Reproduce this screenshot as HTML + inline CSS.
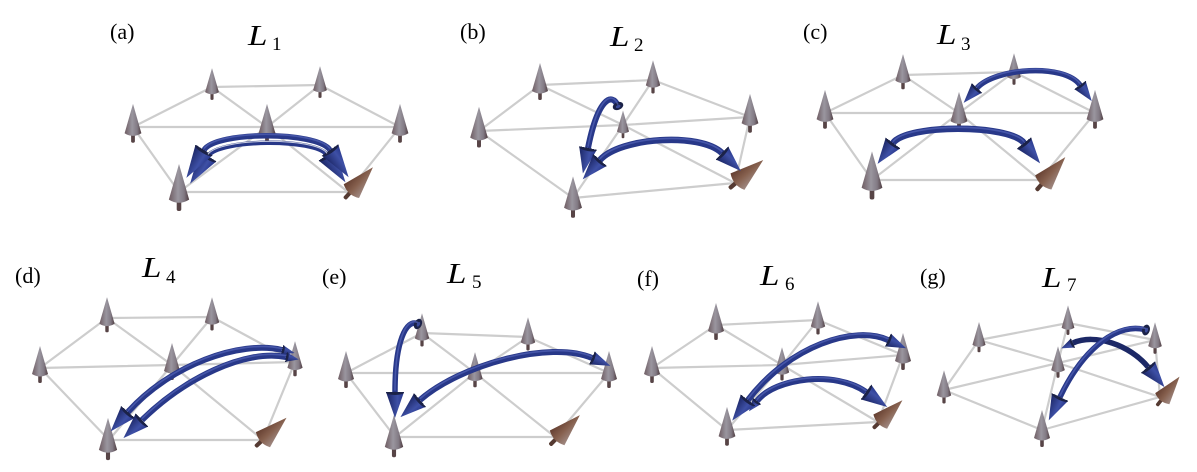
<!DOCTYPE html>
<html><head><meta charset="utf-8"><style>
html,body{margin:0;padding:0;background:#fff;}
svg{display:block;}
text{font-family:"Liberation Serif","DejaVu Serif",serif;fill:#000;}
</style></head><body>
<svg width="1197" height="472" viewBox="0 0 1197 472" xmlns="http://www.w3.org/2000/svg">
<defs>
 <linearGradient id="cg" x1="0" y1="0" x2="1" y2="0">
  <stop offset="0" stop-color="#6e5c62"/>
  <stop offset="0.45" stop-color="#9a969f"/>
  <stop offset="0.75" stop-color="#827a84"/>
  <stop offset="1" stop-color="#4e3c40"/>
 </linearGradient>
 <linearGradient id="cb" x1="0" y1="0" x2="1" y2="0">
  <stop offset="0" stop-color="#643e30"/>
  <stop offset="0.5" stop-color="#86604e"/>
  <stop offset="1" stop-color="#a08a84"/>
 </linearGradient>
 <linearGradient id="ag" x1="0" y1="0" x2="0" y2="1">
  <stop offset="0" stop-color="#26358a"/>
  <stop offset="0.35" stop-color="#3e50a6"/>
  <stop offset="1" stop-color="#1a2462"/>
 </linearGradient>
 <g id="cn">
  <rect x="-1.8" y="4" width="3.6" height="11" rx="1.5" fill="#574446"/>
  <path d="M0,-22 L-8,6 Q0,11 8,6 Z" fill="url(#cg)"/>
 </g>
 <g id="cnb">
  <rect x="-1.8" y="4" width="3.6" height="11" rx="1.5" fill="#553a32"/>
  <path d="M0,-22 L-9,6 Q0,11 9,6 Z" fill="url(#cb)"/>
 </g>
 <marker id="mx" viewBox="0 -11 34 22" refX="0" refY="0" markerWidth="34" markerHeight="22" markerUnits="userSpaceOnUse" orient="auto-start-reverse">
  <path d="M0,-10 L33,0 L0,10 Z" fill="url(#ag)"/>
  <ellipse cx="0.5" cy="0" rx="2.8" ry="10" fill="#1b2248"/>
 </marker>
 <marker id="mb" viewBox="0 -10 27 20" refX="0" refY="0" markerWidth="27" markerHeight="20" markerUnits="userSpaceOnUse" orient="auto-start-reverse">
  <path d="M0,-9 L26,0 L0,9 Z" fill="url(#ag)"/>
  <ellipse cx="0.5" cy="0" rx="2.5" ry="9" fill="#1b2248"/>
 </marker>
 <marker id="mm" viewBox="0 -8 21 16" refX="0" refY="0" markerWidth="21" markerHeight="16" markerUnits="userSpaceOnUse" orient="auto-start-reverse">
  <path d="M0,-7 L20,0 L0,7 Z" fill="url(#ag)"/>
  <ellipse cx="0.5" cy="0" rx="2.2" ry="7" fill="#1b2248"/>
 </marker>
 <marker id="ms" viewBox="0 -6 14 12" refX="0" refY="0" markerWidth="14" markerHeight="12" markerUnits="userSpaceOnUse" orient="auto-start-reverse">
  <path d="M0,-5 L13,0 L0,5 Z" fill="url(#ag)"/>
  <ellipse cx="0.5" cy="0" rx="2" ry="5" fill="#1b2248"/>
 </marker>
 <marker id="md" viewBox="-5 -6 10 12" refX="0" refY="0" markerWidth="10" markerHeight="12" markerUnits="userSpaceOnUse" orient="auto-start-reverse">
  <ellipse cx="0" cy="0" rx="3.8" ry="5.5" fill="#1b2248"/>
  <ellipse cx="0.5" cy="0" rx="1.5" ry="2.5" fill="#3a4a9a"/>
 </marker>
</defs>

<!-- labels -->
<text x="110" y="39" font-size="22">(a)</text>
<text transform="translate(248,45) scale(1.25,1)" font-size="28" font-style="italic">L</text>
<text x="272" y="50" font-size="19">1</text>

<text x="460" y="39" font-size="22">(b)</text>
<text transform="translate(610,46) scale(1.25,1)" font-size="28" font-style="italic">L</text>
<text x="634" y="51" font-size="19">2</text>

<text x="803" y="39" font-size="22">(c)</text>
<text transform="translate(937,44) scale(1.25,1)" font-size="28" font-style="italic">L</text>
<text x="961" y="50" font-size="19">3</text>

<text x="15" y="283" font-size="22">(d)</text>
<text transform="translate(142,277) scale(1.25,1)" font-size="28" font-style="italic">L</text>
<text x="166" y="283" font-size="19">4</text>

<text x="322" y="284" font-size="22">(e)</text>
<text transform="translate(447,283) scale(1.25,1)" font-size="28" font-style="italic">L</text>
<text x="472" y="288" font-size="19">5</text>

<text x="637" y="286" font-size="22">(f)</text>
<text transform="translate(760,285) scale(1.25,1)" font-size="28" font-style="italic">L</text>
<text x="785" y="290" font-size="19">6</text>

<text x="920" y="284" font-size="22">(g)</text>
<text transform="translate(1042,287) scale(1.25,1)" font-size="28" font-style="italic">L</text>
<text x="1067" y="291" font-size="19">7</text>

<!-- lattice edges -->
<g fill="none" stroke="#cdcdcd" stroke-width="2.2" stroke-linejoin="round">
 <path d="M212,87 L320,85 L400,127 L348,192 L179,192 L133,127 Z M267,127 L212,87 M267,127 L320,85 M267,127 L400,127 M267,127 L348,192 M267,127 L179,192 M267,127 L133,127"/>
 <path d="M540,85 L653,80 L750,117 L735,183 L573,198 L479,131 Z M623,125 L540,85 M623,125 L653,80 M623,125 L750,117 M623,125 L735,183 M623,125 L573,198 M623,125 L479,131"/>
 <path d="M903,75 L1014,72 L1095,113 L1040,180 L872,180 L825,113 Z M959,113 L903,75 M959,113 L1014,72 M959,113 L1095,113 M959,113 L1040,180 M959,113 L872,180 M959,113 L825,113"/>
 <path d="M107,318 L212,317 L295,362 L263,440 L109,440 L40,368 Z M172,365 L107,318 M172,365 L212,317 M172,365 L295,362 M172,365 L263,440 M172,365 L109,440 M172,365 L40,368"/>
 <path d="M422,333 L528,337 L609,373 L555,437 L395,437 L346,373 Z M475,373 L422,333 M475,373 L528,337 M475,373 L609,373 M475,373 L555,437 M475,373 L395,437 M475,373 L346,373"/>
 <path d="M716,325 L818,320 L903,355 L878,422 L727,430 L652,368 Z M782,365 L716,325 M782,365 L818,320 M782,365 L903,355 M782,365 L878,422 M782,365 L727,430 M782,365 L652,368"/>
 <path d="M979,340 L1068,323 L1155,340 L1160,397 L1042,430 L944,390 Z M1058,363 L979,340 M1058,363 L1068,323 M1058,363 L1155,340 M1058,363 L1160,397 M1058,363 L1042,430 M1058,363 L944,390"/>
</g>

<!-- cones -->
<use href="#cn" transform="translate(212,87) scale(0.86)"/>
<use href="#cn" transform="translate(320,85) scale(0.86)"/>
<use href="#cn" transform="translate(133,127) scale(1.05)"/>
<use href="#cn" transform="translate(267,127) scale(1.05)"/>
<use href="#cn" transform="translate(400,127) scale(1.05)"/>
<use href="#cn" transform="translate(179,192) scale(1.27)"/>
<use href="#cnb" transform="translate(356,186) rotate(42) scale(1.15)"/>

<use href="#cn" transform="translate(540,85) scale(1.0)"/>
<use href="#cn" transform="translate(653,80) scale(0.9)"/>
<use href="#cn" transform="translate(479,131) scale(1.1)"/>
<use href="#cn" transform="translate(623,127) scale(0.75)"/>
<use href="#cn" transform="translate(750,117) scale(1.05)"/>
<use href="#cn" transform="translate(573,201) scale(1.12)"/>
<use href="#cnb" transform="translate(743,177) rotate(50) scale(1.2)"/>

<use href="#cn" transform="translate(903,75) scale(0.95)"/>
<use href="#cn" transform="translate(1014,72) scale(0.85)"/>
<use href="#cn" transform="translate(825,113) scale(1.05)"/>
<use href="#cn" transform="translate(959,115) scale(1.05)"/>
<use href="#cn" transform="translate(1095,113) scale(1.05)"/>
<use href="#cn" transform="translate(872,180) scale(1.3)"/>
<use href="#cnb" transform="translate(1048,177) rotate(41) scale(1.2)"/>

<use href="#cn" transform="translate(107,318) scale(0.95)"/>
<use href="#cn" transform="translate(212,317) scale(0.9)"/>
<use href="#cn" transform="translate(40,368) scale(1.0)"/>
<use href="#cn" transform="translate(172,365) scale(1.0)"/>
<use href="#cn" transform="translate(295,362) scale(0.95)"/>
<use href="#cn" transform="translate(108,443) scale(1.14)"/>
<use href="#cnb" transform="translate(268,435) rotate(47) scale(1.15)"/>

<use href="#cn" transform="translate(422,333) scale(0.9)"/>
<use href="#cn" transform="translate(528,337) scale(0.9)"/>
<use href="#cn" transform="translate(346,373) scale(1.0)"/>
<use href="#cn" transform="translate(475,373) scale(0.95)"/>
<use href="#cn" transform="translate(609,373) scale(1.0)"/>
<use href="#cn" transform="translate(394,440) scale(1.15)"/>
<use href="#cnb" transform="translate(562,433) rotate(45) scale(1.15)"/>

<use href="#cn" transform="translate(716,325) scale(1.0)"/>
<use href="#cn" transform="translate(818,321) scale(0.9)"/>
<use href="#cn" transform="translate(652,368) scale(1.0)"/>
<use href="#cn" transform="translate(782,367) scale(0.9)"/>
<use href="#cn" transform="translate(903,355) scale(1.0)"/>
<use href="#cn" transform="translate(727,430) scale(1.05)"/>
<use href="#cnb" transform="translate(885,417) rotate(46) scale(1.1)"/>

<use href="#cn" transform="translate(979,340) scale(0.82)"/>
<use href="#cn" transform="translate(1068,323) scale(0.8)"/>
<use href="#cn" transform="translate(1155,341) scale(0.85)"/>
<use href="#cn" transform="translate(944,390) scale(0.9)"/>
<use href="#cn" transform="translate(1058,365) scale(0.85)"/>
<use href="#cn" transform="translate(1042,432) scale(1.0)"/>
<use href="#cnb" transform="translate(1166,394) rotate(38) scale(1.0)"/>

<!-- arrows -->
<g fill="none" stroke="#283889" stroke-linecap="butt">
 <path d="M208,156 C219,139 315.5,138 327,155" stroke-width="4.5" marker-start="url(#mx)" marker-end="url(#mx)"/>
 <path d="M204,150 C216,131 317,131 330,150" stroke-width="5.5" marker-start="url(#mx)" marker-end="url(#mx)"/>
 <path d="M618,106 C612,92 598,98 588,148" stroke-width="6" marker-start="url(#md)" marker-end="url(#mb)"/>
 <path d="M600,160 C620,137.5 700,132 722,153" stroke-width="6.5" marker-start="url(#mb)" marker-end="url(#mb)"/>
 <path d="M977,88 C995,68 1064,63 1080,85" stroke-width="5.5" marker-start="url(#mm)" marker-end="url(#mm)"/>
 <path d="M893,143 C907,124 1009,124 1024,143" stroke-width="6.5" marker-start="url(#mb)" marker-end="url(#mb)"/>
 <path d="M282,350 C240,340 170,365 128,412" stroke-width="6" marker-start="url(#ms)" marker-end="url(#mb)"/>
 <path d="M286,357 C245,349 185,378 142,420" stroke-width="6" marker-start="url(#ms)" marker-end="url(#mb)"/>
 <path d="M418,324 C406,318 395,342 395,392" stroke-width="5.5" marker-start="url(#md)" marker-end="url(#mb)"/>
 <path d="M420,400 C460,365 550,340 592,358" stroke-width="6" marker-start="url(#mb)" marker-end="url(#mm)"/>
 <path d="M757,401 C775,378 835,370 866,392" stroke-width="6" marker-start="url(#ms)" marker-end="url(#mb)"/>
 <path d="M748,400 C790,345 855,325 888,340" stroke-width="6" marker-start="url(#mb)" marker-end="url(#mm)"/>
 <path d="M1073,343 C1095,333 1130,345 1148,367" stroke="#1c2866" stroke-width="5.5" marker-start="url(#ms)" marker-end="url(#mb)"/>
 <path d="M1146,330 C1120,322 1085,345 1060,397" stroke-width="5.5" marker-start="url(#md)" marker-end="url(#mb)"/>
</g>
<g fill="none" stroke="#5264b6" stroke-width="1.6" stroke-opacity="0.7" transform="translate(0,-1.4)">
 <path d="M204,150 C216,131 317,131 330,150"/>
 <path d="M618,106 C612,92 598,98 588,148"/>
 <path d="M600,160 C620,137.5 700,132 722,153"/>
 <path d="M977,88 C995,68 1064,63 1080,85"/>
 <path d="M893,143 C907,124 1009,124 1024,143"/>
 <path d="M282,350 C240,340 170,365 128,412"/>
 <path d="M286,357 C245,349 185,378 142,420"/>
 <path d="M418,324 C406,318 395,342 395,392"/>
 <path d="M420,400 C460,365 550,340 592,358"/>
 <path d="M757,401 C775,378 835,370 866,392"/>
 <path d="M748,400 C790,345 855,325 888,340"/>
 <path d="M1146,330 C1120,322 1085,345 1060,397"/>
</g>
<path d="M208,154.3 C219,137.8 315.5,136.8 327,153.3" fill="none" stroke="#c8cce0" stroke-width="1"/>
</svg>
</body></html>
